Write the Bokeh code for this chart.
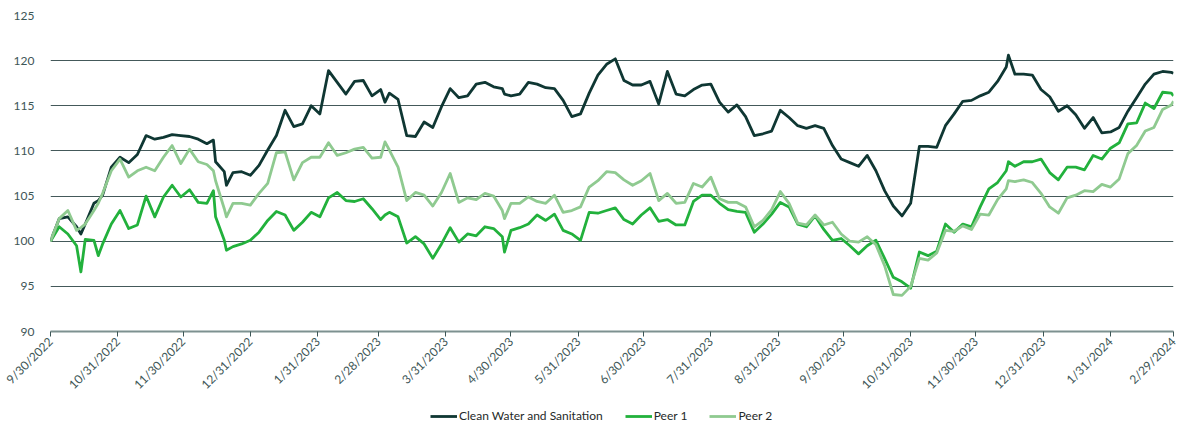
import pandas as pd
from bokeh.plotting import figure
from bokeh.layouts import column
from bokeh.models import Legend, LegendItem, FixedTicker, Range1d
from bokeh.embed import file_html
from bokeh.resources import INLINE

# ---------------- data ----------------
start_date = "2022-09-30"
day_offsets = [0, 4, 8, 12, 14, 16, 20, 22, 24, 28, 32, 36, 40, 44, 48, 52, 56, 60, 64,
               68, 72, 75, 76, 80, 81, 84, 88, 92, 96, 100, 104, 108, 112, 116, 120, 124, 128,
               132, 136, 140, 144, 148, 152, 154, 156, 160, 164, 168, 172, 176, 180, 184, 188,
               192, 196, 200, 204, 208, 209, 212, 216, 220, 224, 228, 232, 236, 240, 244, 248,
               252, 256, 260, 264, 268, 272, 276, 280, 284, 288, 292, 296, 300, 304, 308, 312,
               316, 320, 324, 328, 332, 336, 340, 344, 348, 352, 356, 360, 364, 368, 372, 376,
               380, 384, 388, 392, 396, 400, 404, 408, 412, 416, 420, 424, 428, 432, 436, 440,
               441, 444, 448, 452, 456, 460, 464, 468, 472, 476, 480, 484, 488, 492, 496, 500,
               504, 508, 512, 516, 517]

clean_water = [100, 102.5, 102.7, 101.6, 100.8, 101.9, 104.2, 104.5, 105.1, 108.2, 109.3, 108.7, 109.6,
               111.7, 111.3, 111.5, 111.8, 111.7, 111.6,
               111.3, 110.8, 111.2, 108.8, 107.7, 106.2, 107.6, 107.7, 107.3, 108.4, 110.1, 111.7,
               114.5, 112.7, 113.0, 115.0, 114.1, 118.9,
               117.6, 116.3, 117.7, 117.8, 116.1, 116.8, 115.4, 116.4, 115.7, 111.7, 111.6, 113.2,
               112.6, 114.9, 116.9, 115.9,
               116.1, 117.4, 117.6, 117.1, 116.9, 116.3, 116.1, 116.3, 117.6, 117.4, 117.0, 116.9,
               115.6, 113.8, 114.1, 116.4,
               118.4, 119.6, 120.2, 117.8, 117.3, 117.3, 117.7, 115.2, 118.8, 116.3, 116.1, 116.8,
               117.3, 117.4, 115.4, 114.3,
               115.1, 113.8, 111.7, 111.9, 112.2, 114.5, 113.7, 112.8, 112.5, 112.8, 112.5, 110.6,
               109.1, 108.7, 108.3, 109.5,
               107.8, 105.6, 103.9, 102.8, 104.2, 110.5, 110.5, 110.4, 112.8, 114.1, 115.5, 115.6,
               116.1, 116.5, 117.7, 119.3,
               120.6, 118.5, 118.5, 118.4, 116.8, 116.0, 114.4, 115.0, 114.0, 112.5, 113.7, 112.0,
               112.1, 112.6, 114.4, 115.9,
               117.4, 118.5, 118.8, 118.7, 118.6]

peer_1 = [100, 101.6, 100.8, 99.5, 96.6, 100.2, 100.1, 98.4, 99.7, 101.9, 103.4, 101.4, 101.8,
          105.0, 102.7, 104.9, 106.2, 104.9, 105.7,
          104.3, 104.2, 105.6, 102.7, 100.1, 99.0, 99.4, 99.7, 100.1, 101.0, 102.3, 103.3,
          102.9, 101.2, 102.1, 103.2, 102.7, 104.8,
          105.4, 104.5, 104.4, 104.7, 103.6, 102.4, 102.9, 103.2, 102.7, 99.8, 100.5, 99.7,
          98.1, 99.7, 101.5, 99.9,
          100.8, 100.6, 101.6, 101.4, 100.5, 98.8, 101.2, 101.5, 101.9, 102.9, 102.3, 103.0,
          101.2, 100.8, 100.1, 103.2,
          103.1, 103.4, 103.7, 102.4, 101.9, 102.9, 103.7, 102.2, 102.4, 101.8, 101.8, 104.4,
          105.1, 105.1, 104.2, 103.5,
          103.3, 103.2, 101.0, 101.9, 103.0, 104.3, 103.8, 101.9, 101.6, 102.8, 101.3, 100.1,
          100.3, 99.5, 98.6, 99.5,
          100.1, 98.1, 96.0, 95.5, 94.8, 98.8, 98.4, 98.9, 101.9, 101.0, 101.9, 101.6,
          103.8, 105.8, 106.5, 107.8,
          108.8, 108.3, 108.8, 108.8, 109.1, 107.6, 106.8, 108.2, 108.2, 107.9, 109.5, 109.1,
          110.3, 110.9, 113.0, 113.1,
          115.3, 114.7, 116.5, 116.4, 116.1]

peer_2 = [100, 102.5, 103.4, 101.2, 101.5, 101.9, 103.4, 104.2, 105.3, 107.8, 109.1, 107.1, 107.8,
          108.2, 107.8, 109.3, 110.6, 108.6, 110.2,
          108.8, 108.5, 107.8, 106.7, 103.6, 102.7, 104.2, 104.2, 104.0, 105.3, 106.4, 109.8,
          109.9, 106.8, 108.7, 109.3, 109.3, 110.9,
          109.5, 109.8, 110.2, 110.4, 109.2, 109.3, 111.0, 110.1, 108.2, 104.5, 105.4, 105.1,
          103.9, 105.4, 107.5, 104.3,
          104.8, 104.6, 105.3, 105.0, 103.4, 102.5, 104.2, 104.2, 104.9, 104.4, 104.2, 105.1,
          103.2, 103.4, 103.8, 106.0,
          106.7, 107.7, 107.6, 106.8, 106.2, 106.7, 107.5, 104.5, 105.3, 104.2, 104.3, 106.4,
          106.0, 107.1, 104.7, 104.3,
          104.3, 103.8, 101.6, 102.3, 103.5, 105.5, 104.2, 102.0, 101.8, 102.9, 101.8, 102.1,
          100.8, 100.0, 99.9, 100.5,
          99.6, 97.3, 94.1, 94.0, 95.0, 98.1, 97.9, 98.7, 101.2, 101.1, 101.7, 101.3,
          103.0, 102.9, 104.6, 105.8,
          106.7, 106.6, 106.8, 106.5, 105.3, 103.8, 103.1, 104.8, 105.1, 105.6, 105.5, 106.3,
          106.0, 106.9, 109.7, 110.6,
          112.2, 112.6, 114.6, 115.1, 115.5]

series_names = ["Clean Water and Sanitation", "Peer 1", "Peer 2"]
series_colors = ["#0f3733", "#22b13c", "#8fca90"]

tick_labels = ["9/30/2022", "10/31/2022", "11/30/2022", "12/31/2022", "1/31/2023", "2/28/2023",
               "3/31/2023", "4/30/2023", "5/31/2023", "6/30/2023", "7/31/2023", "8/31/2023",
               "9/30/2023", "10/31/2023", "11/30/2023", "12/31/2023", "1/31/2024", "2/29/2024"]
y_ticks = [90, 95, 100, 105, 110, 115, 120, 125]

# ---------------- derived positions ----------------
start = pd.Timestamp(start_date)
tick_pos = [int((pd.to_datetime(t, format="%m/%d/%Y") - start).days) for t in tick_labels]
x_end = tick_pos[-1]

FONT = "Lato"
TXT = "#3d5656"
W = 1180
LW = 2.8

p = figure(width=W, height=400, output_backend="svg", toolbar_location=None,
           x_range=Range1d(0, x_end), y_range=Range1d(y_ticks[0], y_ticks[-1]),
           min_border_left=50, min_border_right=7, min_border_top=15, min_border_bottom=69)
p.outline_line_color = None
p.background_fill_color = "white"
p.border_fill_color = "white"

for vals, color in zip([clean_water, peer_1, peer_2], series_colors):
    p.line(day_offsets, vals, line_color=color, line_width=LW, line_join="round")

# grid
p.xgrid.grid_line_color = None
p.ygrid.ticker = FixedTicker(ticks=y_ticks)
p.ygrid.grid_line_color = "#44595a"
p.ygrid.grid_line_width = 1

# y axis
p.yaxis.ticker = FixedTicker(ticks=y_ticks)
p.yaxis.axis_line_color = None
p.yaxis.major_tick_line_color = None
p.yaxis.minor_tick_line_color = None
p.yaxis.major_label_text_font = FONT
p.yaxis.major_label_text_font_size = "12px"
p.yaxis.major_label_text_color = TXT
p.yaxis.major_label_standoff = 10

# x axis
p.xaxis.ticker = FixedTicker(ticks=tick_pos)
p.xaxis.major_label_overrides = {pos: lab for pos, lab in zip(tick_pos, tick_labels)}
p.xaxis.major_label_orientation = 0.785398
p.xaxis.axis_line_color = "#7d9190"
p.xaxis.axis_line_width = 2
p.xaxis.major_tick_line_color = "#3d5656"
p.xaxis.major_tick_out = 5
p.xaxis.major_tick_in = 0
p.xaxis.minor_tick_line_color = None
p.xaxis.major_label_text_font = FONT
p.xaxis.major_label_text_font_size = "12px"
p.xaxis.major_label_text_color = TXT
p.xaxis.major_label_standoff = 3

# legend strip below the chart (proxy lines lie outside its visible range)
lg = figure(width=W, height=26, output_backend="svg", toolbar_location=None,
            x_range=Range1d(0, 1), y_range=Range1d(0, 1),
            min_border_left=0, min_border_right=0, min_border_top=0, min_border_bottom=0)
lg.axis.visible = False
lg.grid.visible = False
lg.outline_line_color = None
lg_renderers = [lg.line([-2, -1], [-2, -1], line_color=c, line_width=LW) for c in series_colors]
legend = Legend(items=[LegendItem(label=n, renderers=[r]) for n, r in zip(series_names, lg_renderers)],
                orientation="horizontal", location=(380, 3),
                label_text_font=FONT, label_text_font_size="12px", label_text_color="#1f2a2a",
                glyph_width=27, glyph_height=12, label_standoff=2, spacing=22,
                padding=0, margin=0, border_line_color=None, background_fill_alpha=0)
lg.add_layout(legend)

layout = column(p, lg, spacing=0)
open("out.html", "w").write(file_html(layout, INLINE))
